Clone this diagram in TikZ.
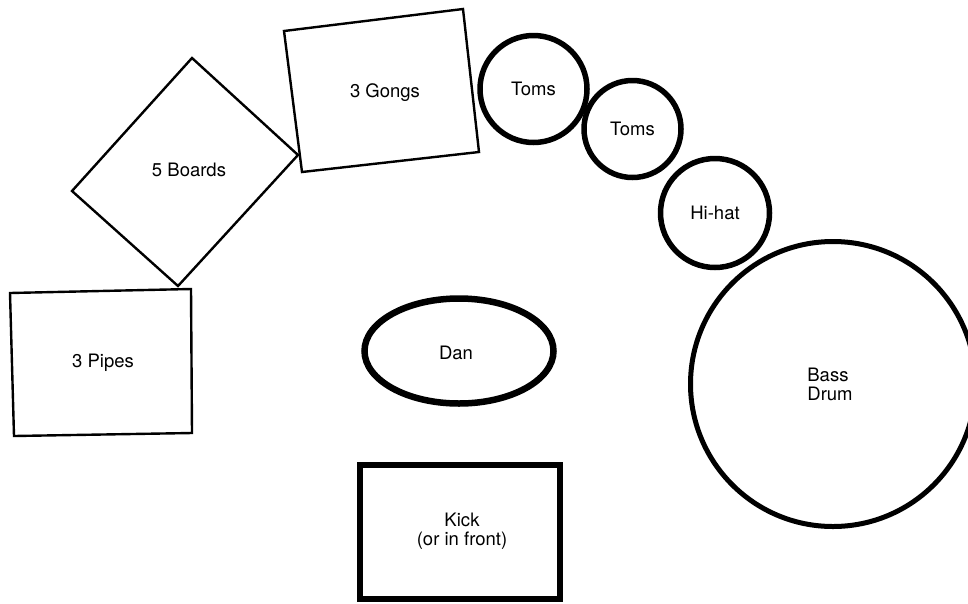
\documentclass[tikz,border=0pt]{standalone}
\usepackage{fontspec}
\setmainfont{TeX Gyre Heros}
\usetikzlibrary{shapes.geometric}
\begin{document}
\begin{tikzpicture}[x=1pt,y=-1pt,
  lbl/.style={font=\fontsize{18.5}{19}\selectfont, inner sep=0pt, align=center},
  thinshape/.style={draw=black, line width=2.4pt, line join=miter},
  drum/.style={circle, draw=black, inner sep=0pt, font=\fontsize{18.5}{19}\selectfont}]
\useasboundingbox (0,0) rectangle (968,603);
\clip (0,0) rectangle (968,603);
\fill[white] (0,0) rectangle (968,603);
% 3 Pipes
\coordinate (p1) at (10,293);
\coordinate (p2) at (191,289);
\coordinate (p3) at (192,433);
\coordinate (p4) at (14,436);
\draw[thinshape] (p1) -- (p2) -- (p3) -- (p4) -- cycle;
\node[lbl] (pipes) at (103,363) {3 Pipes};
% 5 Boards
\coordinate (b1) at (192,58);
\coordinate (b2) at (298,155);
\coordinate (b3) at (178,286);
\coordinate (b4) at (72,191);
\draw[thinshape] (b1) -- (b2) -- (b3) -- (b4) -- cycle;
\node[lbl] (boards) at (189,170) {5 Boards};
% 3 Gongs
\coordinate (g1) at (284,31);
\coordinate (g2) at (463,9);
\coordinate (g3) at (479,152);
\coordinate (g4) at (302,172);
\draw[thinshape] (g1) -- (g2) -- (g3) -- (g4) -- cycle;
\node[lbl] (gongs) at (385,93) {3 Gongs};
% drums
\node[drum, line width=5.5pt, minimum size=107pt] (toms1) at (533.5,89) {Toms};
\node[drum, line width=5.5pt, minimum size=97pt] (toms2) at (632.5,129) {Toms};
\node[drum, line width=5.5pt, minimum size=109pt] (hihat) at (715,213) {Hi-hat};
\draw[line width=5pt] (833,384) circle[radius=142.5];
\node[lbl, align=left] (bass) at (830,384) {Bass\\Drum};
% Dan
\draw[line width=6.5pt] (459,351) ellipse[x radius=94.5, y radius=52.5];
\node[lbl] (dan) at (456,353) {Dan};
% Kick
\draw[line width=6pt] (360,465) rectangle (560,599);
\node[lbl] (kick) at (462,531) {Kick\\(or in front)};
\end{tikzpicture}
\end{document}
